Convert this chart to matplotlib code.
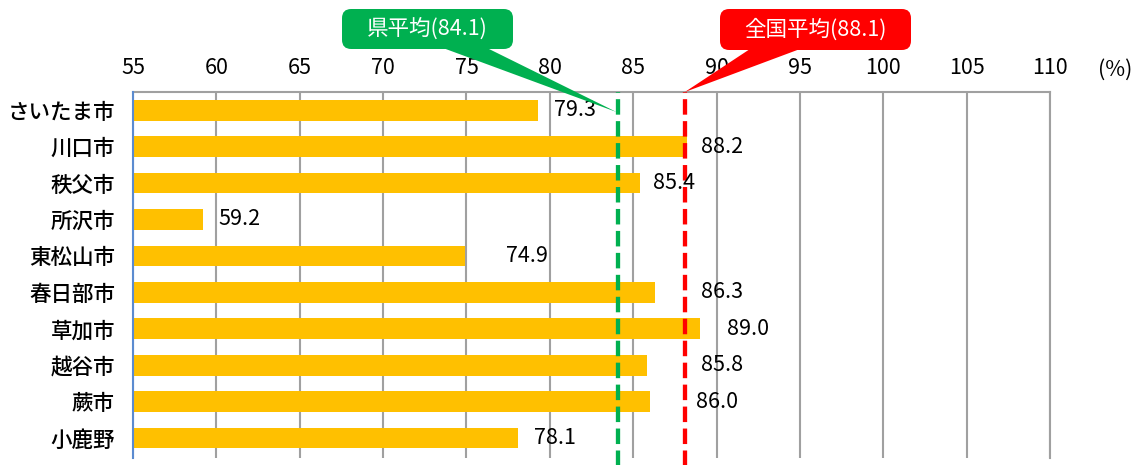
import numpy as np
import matplotlib
matplotlib.use('Agg')
import matplotlib.pyplot as plt
from matplotlib.patches import FancyBboxPatch, Polygon

plt.rcParams['font.family'] = ['Noto Sans CJK JP', 'DejaVu Sans']

cities = ['さいたま市', '川口市', '秩父市', '所沢市', '東松山市',
          '春日部市', '草加市', '越谷市', '蕨市', '小鹿野']
rates = [79.3, 88.2, 85.4, 59.2, 74.9, 86.3, 89.0, 85.8, 86.0, 78.1]
pref_avg = 84.1
nat_avg = 88.1
ticks = np.arange(55, 111, 5)

# label offsets from bar end (data units), as placed in the original
label_pad = [0.95, 0.85, 0.8, 0.9, 2.5, 2.75, 1.6, 3.25, 2.75, 0.95]

W, H = 1144, 465
fig = plt.figure(figsize=(W / 100, H / 100), dpi=100)
ax = fig.add_axes([133 / W, 1 - 458 / H, (1050 - 133) / W, (458 - 92) / H])

y = np.arange(len(cities))
ax.barh(y, np.array(rates) - 55, left=55, height=0.57, color='#FFC000', zorder=2)
for yi, v, p in zip(y, rates, label_pad):
    ax.text(v + p, yi, f'{v:.1f}', va='center', ha='left', fontsize=15.5, zorder=4)

ax.set_xlim(55, 110)
ax.set_ylim(len(cities) - 0.45, -0.5)
ax.set_xticks(ticks)
ax.xaxis.tick_top()
ax.tick_params(axis='x', length=0, labelsize=15.5, pad=9)
ax.set_yticks(y)
ax.set_yticklabels(cities, fontsize=15.5, fontweight='medium')
ax.tick_params(axis='y', length=0, pad=13)
ax.grid(axis='x', color='#A0A0A0', linewidth=1.5, zorder=1)
ax.spines['bottom'].set_visible(False)
for s in ['top', 'right']:
    ax.spines[s].set_color('#A0A0A0')
    ax.spines[s].set_linewidth(1.5)
ax.spines['left'].set_color('#5B8BD0')
ax.spines['left'].set_linewidth(1.5)
ax.spines['left'].set_zorder(3)

for val, col in [(pref_avg, '#00B050'), (nat_avg, '#FF0000')]:
    ax.axvline(val, color=col, linewidth=3.1, linestyle=(0, (3.6, 1.5)), zorder=3,
               clip_on=False, ymin=-0.05, ymax=1)

fig.text(1115 / W, 1 - 70 / H, '(%)', fontsize=15.5, ha='center', va='center')


def px2fig(x, yy):
    return x / W, 1 - yy / H


def callout(x0, x1, y0, y1, base0, base1, tip, color, text):
    box = FancyBboxPatch(px2fig(x0, y1), (x1 - x0) / W, (y1 - y0) / H,
                         boxstyle='round,pad=0,rounding_size=0.008',
                         transform=fig.transFigure, facecolor=color, edgecolor='none',
                         mutation_aspect=W / H)
    fig.patches.append(box)
    tri = Polygon([px2fig(base0, y1 - 1), px2fig(base1, y1 - 1), px2fig(*tip)],
                  closed=True, transform=fig.transFigure, facecolor=color, edgecolor='none')
    fig.patches.append(tri)
    cx, cy = px2fig((x0 + x1) / 2, (y0 + y1) / 2)
    fig.text(cx, cy, text, color='white', fontsize=15.5, ha='center', va='center')


# tip positions from the data scale
tip_g = ax.transData.transform((pref_avg - 0.1, 0.05))
tip_r = ax.transData.transform((nat_avg, -0.5))
callout(342, 513, 9, 49, 443, 487, (tip_g[0], H - tip_g[1]), '#00B050', '県平均(84.1)')
callout(720, 911, 9, 50, 750, 800, (tip_r[0], H - tip_r[1]), '#FF0000', '全国平均(88.1)')

fig.savefig('out.png', dpi=100)
